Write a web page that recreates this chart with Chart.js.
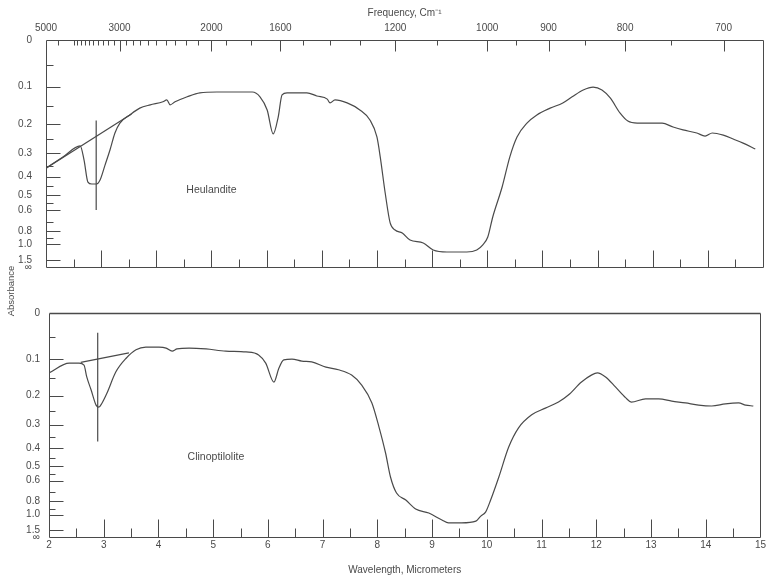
<!DOCTYPE html>
<html>
<head>
<meta charset="utf-8">
<script src="https://cdn.jsdelivr.net/npm/chart.js@4/dist/chart.umd.min.js"></script>
<style>
  html, body { margin: 0; padding: 0; background: #fff; }
  #wrap { position: relative; width: 768px; height: 578px; }
  #wrap canvas { position: absolute; left: 0; top: 0; }
</style>
</head>
<body>
<div id="wrap">
  <canvas id="heul" width="768" height="578"></canvas>
  <canvas id="clino" width="768" height="578"></canvas>
</div>
<script>
// spectra: wavelength in micrometers, absorbance
var heulWave = [2.00, 2.30, 2.62, 2.69, 2.76, 2.83, 2.92, 2.98, 3.07, 3.16, 3.25, 3.34, 3.52, 3.70, 3.89, 4.12, 4.19, 4.25, 4.34, 4.56, 4.79, 5.10, 5.39, 5.74, 5.88, 6.01, 6.12, 6.21, 6.28, 6.37, 6.73, 6.91, 7.10, 7.15, 7.24, 7.46, 7.69, 7.87, 8.00, 8.06, 8.15, 8.24, 8.33, 8.46, 8.60, 8.84, 9.02, 9.27, 9.63, 9.81, 9.92, 10.01, 10.10, 10.27, 10.41, 10.54, 10.72, 10.90, 11.14, 11.37, 11.54, 11.74, 11.92, 12.08, 12.23, 12.41, 12.55, 12.72, 13.17, 13.37, 13.55, 13.80, 13.95, 14.08, 14.28, 14.46, 14.64, 14.86]
var heulAbs = [0.361, 0.316, 0.273, 0.327, 0.427, 0.437, 0.437, 0.417, 0.348, 0.288, 0.229, 0.198, 0.174, 0.155, 0.146, 0.138, 0.133, 0.146, 0.138, 0.125, 0.115, 0.113, 0.113, 0.113, 0.125, 0.160, 0.232, 0.180, 0.120, 0.115, 0.115, 0.123, 0.131, 0.141, 0.133, 0.141, 0.160, 0.188, 0.242, 0.314, 0.487, 0.712, 0.788, 0.824, 0.925, 0.975, 1.125, 1.18, 1.18, 1.125, 1.01, 0.88, 0.657, 0.453, 0.314, 0.242, 0.198, 0.174, 0.155, 0.141, 0.125, 0.108, 0.101, 0.108, 0.128, 0.169, 0.192, 0.198, 0.198, 0.210, 0.219, 0.229, 0.239, 0.229, 0.236, 0.249, 0.263, 0.284]
var heulBaseWave = [2.00, 3.55]
var heulBaseAbs = [0.361, 0.171]
var heulMarkWave = [2.91, 2.91]
var heulMarkAbs = [0.19, 0.60]

var clinoWave = [2.00, 2.37, 2.55, 2.64, 2.69, 2.77, 2.86, 2.91, 2.97, 3.06, 3.22, 3.41, 3.59, 3.77, 4.01, 4.14, 4.25, 4.34, 4.56, 4.87, 5.23, 5.60, 5.83, 5.96, 6.11, 6.20, 6.29, 6.44, 6.62, 6.80, 7.06, 7.29, 7.53, 7.71, 7.90, 8.03, 8.15, 8.24, 8.35, 8.52, 8.70, 8.94, 9.18, 9.30, 9.54, 9.80, 9.89, 9.98, 10.07, 10.22, 10.40, 10.58, 10.82, 11.07, 11.31, 11.49, 11.73, 11.91, 12.02, 12.17, 12.35, 12.54, 12.64, 12.90, 13.14, 13.38, 13.63, 13.87, 14.11, 14.36, 14.60, 14.73, 14.87]
var clinoAbs = [0.135, 0.110, 0.110, 0.115, 0.146, 0.183, 0.230, 0.237, 0.223, 0.192, 0.133, 0.098, 0.078, 0.072, 0.072, 0.074, 0.081, 0.076, 0.074, 0.076, 0.081, 0.083, 0.090, 0.110, 0.160, 0.123, 0.102, 0.100, 0.105, 0.107, 0.120, 0.127, 0.141, 0.168, 0.223, 0.309, 0.426, 0.572, 0.707, 0.782, 0.903, 0.971, 1.12, 1.20, 1.20, 1.15, 1.03, 0.95, 0.782, 0.572, 0.396, 0.312, 0.263, 0.240, 0.220, 0.198, 0.160, 0.141, 0.135, 0.146, 0.174, 0.207, 0.220, 0.210, 0.210, 0.217, 0.223, 0.230, 0.233, 0.226, 0.223, 0.230, 0.233]
var clinoBaseWave = [2.58, 3.46]
var clinoBaseAbs = [0.108, 0.085]
var clinoMarkWave = [2.89, 2.89]
var clinoMarkAbs = [0.04, 0.37]

// axis ticks
var absTicks = [0, 0.1, 0.2, 0.3, 0.4, 0.5, 0.6, 0.8, 1.0, 1.5, Infinity]
var absTickLabels = ['0', '0.1', '0.2', '0.3', '0.4', '0.5', '0.6', '0.8', '1.0', '1.5', '∞']
var absMinorTicks = [0.05, 0.15, 0.25, 0.35, 0.45, 0.55, 0.7, 0.9]
var freqTicks = [5000, 3000, 2000, 1600, 1200, 1000, 900, 800, 700]
var freqMinorTicks = [4500, 4000, 3900, 3800, 3700, 3600, 3500, 3400, 3300, 3200, 3100, 2900, 2800, 2700, 2600, 2500, 2400, 2300, 2200, 2100, 1900, 1750, 1500, 1400, 1300, 1100, 950, 850, 750]
var waveTicks = [2, 3, 4, 5, 6, 7, 8, 9, 10, 11, 12, 13, 14, 15]
var waveMinorTicks = [2.5, 3.5, 4.5, 5.5, 6.5, 7.5, 8.5, 9.5, 10.5, 11.5, 12.5, 13.5, 14.5]

var ink = '#4a4a4a'
var fontFamily = "'Liberation Sans', Arial, sans-serif"
Chart.defaults.font.family = fontFamily
Chart.defaults.color = ink

// the chart paper is linear in transmittance, labelled in absorbance
function toT(a) {
  return Math.pow(10, -a)
}

function points(waves, abs) {
  return waves.map(function (w, i) { return { x: w, y: toT(abs[i]) } })
}

function seg(ctx, x1, y1, x2, y2) {
  ctx.beginPath()
  ctx.moveTo(x1, y1)
  ctx.lineTo(x2, y2)
  ctx.stroke()
}

var panelDecor = {
  id: 'panelDecor',
  afterDraw: function (chart, args, opts) {
    var ctx = chart.ctx
    var area = chart.chartArea
    var xs = chart.scales.x
    var ys = chart.scales.y
    var l = Math.round(area.left) + 0.5
    var r = Math.round(area.right) + 0.5
    var t = Math.round(area.top) + 0.5
    var b = Math.round(area.bottom) + 0.5
    ctx.save()
    ctx.strokeStyle = ink
    ctx.lineWidth = 1
    seg(ctx, l, t, l, b)
    seg(ctx, r, t, r, b)
    seg(ctx, l, b, r, b)
    ctx.lineWidth = opts.topWidth || 1
    seg(ctx, l, t, r, t)
    ctx.lineWidth = 1

    absTicks.forEach(function (a) {
      if (a === 0 || a === Infinity) return
      var py = Math.round(ys.getPixelForValue(toT(a))) + 0.5
      seg(ctx, l, py, l + opts.leftMajor, py)
    })
    absMinorTicks.forEach(function (a) {
      var py = Math.round(ys.getPixelForValue(toT(a))) + 0.5
      seg(ctx, l, py, l + opts.leftMinor, py)
    })
    waveTicks.forEach(function (w) {
      if (w === 2 || w === 15) return
      var px = Math.round(xs.getPixelForValue(w)) + 0.5
      seg(ctx, px, b, px, b - opts.bottomMajor)
    })
    waveMinorTicks.forEach(function (w) {
      var px = Math.round(xs.getPixelForValue(w)) + 0.5
      seg(ctx, px, b, px, b - opts.bottomMinor)
    })
    if (opts.topMajor) {
      freqTicks.forEach(function (f) {
        if (f === 5000) return
        var px = Math.round(xs.getPixelForValue(10000 / f)) + 0.5
        seg(ctx, px, t, px, t + opts.topMajor)
      })
      freqMinorTicks.forEach(function (f) {
        var px = Math.round(xs.getPixelForValue(10000 / f)) + 0.5
        seg(ctx, px, t, px, t + opts.topMinor)
      })
    }

    ctx.fillStyle = ink
    ctx.font = '10.5px ' + fontFamily
    ctx.textAlign = 'center'
    ctx.textBaseline = 'middle'
    ctx.fillText(opts.name, xs.getPixelForValue(opts.nameAt[0]), ys.getPixelForValue(toT(opts.nameAt[1])))

    if (opts.sideTitle) {
      ctx.font = '9.5px ' + fontFamily
      ctx.translate(11, area.top - 22)
      ctx.rotate(-Math.PI / 2)
      ctx.fillText(opts.sideTitle, 0, 0)
    }
    ctx.restore()
  }
}

function lineSet(data, smooth) {
  return {
    data: data,
    borderColor: ink,
    borderWidth: 1.2,
    pointRadius: 0,
    fill: false,
    cubicInterpolationMode: smooth ? 'monotone' : 'default',
    tension: 0
  }
}

function yScale(width, pad) {
  return {
    type: 'linear',
    min: 0,
    max: 1,
    grid: { display: false, drawTicks: false },
    border: { display: false },
    afterBuildTicks: function (scale) {
      scale.ticks = absTicks.slice().reverse().map(function (a) { return { value: toT(a) } })
    },
    afterFit: function (scale) { scale.width = width },
    ticks: {
      autoSkip: false,
      padding: pad,
      color: ink,
      font: { size: 10 },
      callback: function (v, i) { return absTickLabels[absTickLabels.length - 1 - i] }
    }
  }
}

function drawPanel(canvasId, datasets, xScale, yOpts, padding, decor) {
  var ctx = document.getElementById(canvasId).getContext('2d')
  return new Chart(ctx, {
    type: 'line',
    data: { datasets: datasets },
    options: {
      responsive: false,
      animation: false,
      devicePixelRatio: 1,
      layout: { padding: padding },
      plugins: {
        legend: { display: false },
        tooltip: { enabled: false },
        panelDecor: decor
      },
      scales: { x: xScale, y: yOpts }
    },
    plugins: [panelDecor]
  })
}

var heulChart = drawPanel('heul', [
  lineSet(points(heulWave, heulAbs), true),
  lineSet(points(heulBaseWave, heulBaseAbs), false),
  lineSet(points(heulMarkWave, heulMarkAbs), false)
], {
  type: 'linear',
  position: 'top',
  min: 2,
  max: 15,
  grid: { display: false, drawTicks: false },
  border: { display: false },
  afterBuildTicks: function (scale) {
    scale.ticks = freqTicks.map(function (f) { return { value: 10000 / f } })
  },
  afterFit: function (scale) { scale.height = 40 },
  ticks: {
    autoSkip: false,
    maxRotation: 0,
    padding: 6,
    font: { size: 10 },
    callback: function (v, i) { return String(freqTicks[i]) }
  },
  title: {
    display: true,
    text: 'Frequency, Cm⁻¹',
    padding: { top: 7, bottom: 0 },
    font: { size: 10 }
  }
}, yScale(46, 14), { left: 0, top: 0, right: 5, bottom: 311 }, {
  leftMajor: 14, leftMinor: 7, bottomMajor: 17, bottomMinor: 8,
  topMajor: 11, topMinor: 5,
  name: 'Heulandite', nameAt: [5.0, 0.47]
})

var clinoChart = drawPanel('clino', [
  lineSet(points(clinoWave, clinoAbs), true),
  lineSet(points(clinoBaseWave, clinoBaseAbs), false),
  lineSet(points(clinoMarkWave, clinoMarkAbs), false)
], {
  type: 'linear',
  position: 'bottom',
  min: 2,
  max: 15,
  grid: { display: false, drawTicks: false },
  border: { display: false },
  afterBuildTicks: function (scale) {
    scale.ticks = waveTicks.map(function (w) { return { value: w } })
  },
  afterFit: function (scale) { scale.height = 41 },
  ticks: {
    autoSkip: false,
    maxRotation: 0,
    padding: 2,
    font: { size: 10 },
    callback: function (v, i) { return String(waveTicks[i]) }
  },
  title: {
    display: true,
    text: 'Wavelength, Micrometers',
    padding: { top: 0, bottom: 2 },
    font: { size: 10 }
  }
}, yScale(49, 9), { left: 0, top: 313, right: 6, bottom: 0 }, {
  leftMajor: 14, leftMinor: 6, bottomMajor: 18, bottomMinor: 9,
  topWidth: 1.6,
  name: 'Clinoptilolite', nameAt: [5.05, 0.45],
  sideTitle: 'Absorbance'
})
</script>
</body>
</html>
